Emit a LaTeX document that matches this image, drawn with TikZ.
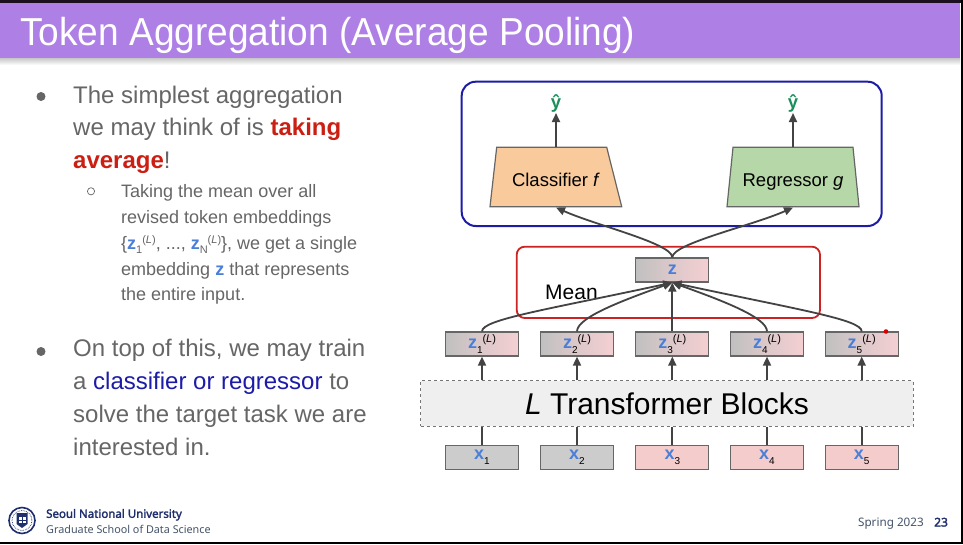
\documentclass[tikz,border=0pt]{standalone}
\usepackage{fontspec}
\setmainfont{Liberation Sans}
\newfontfamily\titlefont[FakeStretch=0.95]{Liberation Sans}
\newfontfamily\footfont{Noto Sans}[BoldFont={Noto Sans}, BoldFeatures={FakeBold=2.2}]
\usetikzlibrary{arrows.meta,shapes.geometric}
\definecolor{bandpurple}{HTML}{AE80E6}
\definecolor{topdark}{HTML}{1A1020}
\definecolor{txtgray}{HTML}{666666}
\definecolor{hired}{HTML}{CC1F14}
\definecolor{hiblue}{HTML}{1C1CA8}
\definecolor{zblue}{HTML}{4A7FD8}
\definecolor{yhat}{HTML}{1A8F5C}
\definecolor{outerblue}{HTML}{1C1CA6}
\definecolor{meanred}{HTML}{CC2222}
\definecolor{clforange}{HTML}{F9CB9C}
\definecolor{reggreen}{HTML}{B6D7A8}
\definecolor{boxgray}{HTML}{666666}
\definecolor{tokgray}{HTML}{C0C0C0}
\definecolor{tokpink}{HTML}{F4CFD2}
\definecolor{xpink}{HTML}{F4CCCC}
\definecolor{xgray}{HTML}{CCCCCC}
\definecolor{arrowgray}{HTML}{434343}
\definecolor{blockfill}{HTML}{EFEFEF}
\definecolor{navy}{HTML}{1F2F6E}
\definecolor{footgray}{HTML}{44546A}
\tikzset{
  tok/.style={draw=boxgray, line width=1.2pt, minimum width=73pt, minimum height=24pt, inner sep=0pt},
  ztok/.style={tok, left color=tokgray, right color=tokpink, middle color=tokgray!45!tokpink},
  xtokgray/.style={tok, fill=xgray},
  xtokpink/.style={tok, fill=xpink},
  conn/.style={draw=arrowgray, line width=1.8pt},
  arr/.style={conn, -{Triangle[length=9pt,width=8pt]}},
  bodytxt/.style={anchor=base west, inner sep=0pt, text=txtgray, font=\fontsize{24}{28}\selectfont},
  subtxt/.style={anchor=base west, inner sep=0pt, text=txtgray, font=\fontsize{18}{22}\selectfont},
  headshape/.style={draw=boxgray, line width=1.2pt},
  headtxt/.style={inner sep=0pt, font=\fontsize{18.5}{20}\selectfont},
}
\newcommand{\ztok}[1]{\textcolor{zblue}{\bfseries\fontsize{18}{18}\selectfont z}\raisebox{-5pt}{\fontsize{10}{10}\selectfont #1}\raisebox{6pt}{\fontsize{11}{11}\selectfont (\textit{L})}}
\newcommand{\xtok}[1]{\textcolor{zblue}{\bfseries\fontsize{18}{18}\selectfont x}\raisebox{-5pt}{\fontsize{10}{10}\selectfont #1}}
\newcommand{\zsub}[1]{\textcolor{zblue}{\bfseries z}\raisebox{-4.5pt}{\fontsize{11}{11}\selectfont #1}\raisebox{6pt}{\fontsize{11}{11}\selectfont (\textit{L})}}
\begin{document}
\begin{tikzpicture}[x=1pt,y=-1pt]
\useasboundingbox (0,0) rectangle (963,544);
\fill[white] (0,0) rectangle (963,544);
% header band
\shade[top color=black!22, bottom color=white] (0,58) rectangle (960,65);
\fill[bandpurple] (0,3) rectangle (960,58);
\fill[topdark] (0,0) rectangle (963,3);
\fill[black] (960.5,0) rectangle (963,544);
\fill[black] (0,541.5) rectangle (963,544);
\node[anchor=base west, inner sep=0pt, text=white, font=\titlefont\fontsize{39}{39}\selectfont] (title) at (20,45) {Token Aggregation (Average Pooling)};

% left column text
\fill[txtgray] (41,96.5) circle (4.5);
\node[bodytxt] (b1a) at (73,103.3) {The simplest aggregation};
\node[bodytxt] (b1b) at (73,135.8) {we may think of is \textcolor{hired}{\bfseries taking}};
\node[bodytxt] (b1c) at (73,168.4) {\textcolor{hired}{\bfseries average}!};
\draw[txtgray, line width=0.7pt] (91,191.3) circle (3.6);
\node[subtxt] (s1) at (121,197.3) {Taking the mean over all};
\node[subtxt] (s2) at (121,223.2) {revised token embeddings};
\node[subtxt] (s3) at (121,249.1) {\{\zsub{1}, ..., \zsub{N}\}, we get a single};
\node[subtxt] (s4) at (121,275) {embedding \textcolor{zblue}{\bfseries z} that represents};
\node[subtxt] (s5) at (121,300.9) {the entire input.};
\fill[txtgray] (41,351.5) circle (4.5);
\node[bodytxt] (b2a) at (73,356.7) {On top of this, we may train};
\node[bodytxt] (b2b) at (73,389.8) {a \textcolor{hiblue}{classifier or regressor} to};
\node[bodytxt] (b2c) at (73,422.8) {solve the target task we are};
\node[bodytxt] (b2d) at (73,455.9) {interested in.};

% footer
\node[circle, draw=navy, line width=1.6pt, minimum size=26pt, inner sep=0pt] (logo) at (22,520.5) {};
\draw[navy, line width=0.7pt, densely dotted] (logo.center) circle (10);
\fill[navy] (16.5,513) -- (27.5,513) -- (27.5,524) -- (22,528) -- (16.5,524) -- cycle;
\fill[white] (18.5,517) rectangle (25.5,522.5);
\draw[navy, line width=0.6pt] (22,517) -- (22,522.5) (18.5,519.8) -- (25.5,519.8);
\node[anchor=base west, inner sep=0pt, text=navy, font=\footfont\bfseries\fontsize{11.5}{12}\selectfont] (snu) at (46,517.8) {Seoul National University};
\node[anchor=base west, inner sep=0pt, text=footgray, font=\footfont\fontsize{10.8}{12}\selectfont] (gsds) at (46,533) {Graduate School of Data Science};
\node[anchor=base east, inner sep=0pt, text=footgray, font=\footfont\fontsize{11.7}{12}\selectfont] (spring) at (924,526.5) {Spring 2023};
\node[anchor=base west, inner sep=0pt, text=navy, font=\footfont\bfseries\fontsize{12}{12}\selectfont] (page) at (934,526.5) {23};

% diagram: outer boxes
\draw[outerblue, line width=2pt, rounded corners=14pt] (461.7,81.7) rectangle (881.7,226);
\draw[meanred, line width=1.8pt, rounded corners=8pt] (516.7,246.7) rectangle (820,318);
\node[anchor=base west, inner sep=0pt, font=\fontsize{21}{21}\selectfont] (mean) at (545,299.5) {Mean};

% heads
\draw[headshape, fill=clforange] (496.7,147.3) -- (606.7,147.3) -- (621.7,206.7) -- (490,206.7) -- cycle;
\draw[headshape, fill=reggreen] (733,147.3) -- (853,147.3) -- (859,206.7) -- (727,206.7) -- cycle;
\coordinate (clftop) at (556,147.3);
\coordinate (clfbot) at (556,207.5);
\coordinate (regtop) at (793,147.3);
\coordinate (regbot) at (793,207.5);
\node[headtxt, anchor=base] (clf) at (556,186.5) {Classifier \textit{f}};
\node[headtxt, anchor=base] (reg) at (793,186.5) {Regressor \textit{g}};
\node[inner sep=0pt, text=yhat, font=\bfseries\fontsize{18.5}{18}\selectfont] (y1) at (556,104) {ŷ};
\node[inner sep=0pt, text=yhat, font=\bfseries\fontsize{18.5}{18}\selectfont] (y2) at (793,104) {ŷ};
\draw[arr] (clftop) -- (y1.south);
\draw[arr] (regtop) -- (y2.south);

% pooled token
\node[ztok] (zc) at (672.3,270) {\textcolor{zblue}{\bfseries\fontsize{18}{18}\selectfont z}};

% token rows
\node[ztok] (z1) at (482,344) {\ztok{1}};
\node[ztok] (z2) at (577,344) {\ztok{2}};
\node[ztok] (z3) at (672.3,344) {\ztok{3}};
\node[ztok] (z4) at (767,344) {\ztok{4}};
\node[ztok] (z5) at (861.7,344) {\ztok{5}};
\fill[red!85!black] (886,331.5) circle (2.3);

\node[draw=boxgray!90, dashed, line width=0.9pt, fill=blockfill, minimum width=492.6pt, minimum height=45.3pt, inner sep=0pt, font=\fontsize{30}{30}\selectfont] (tb) at (667,403.4) {\textit{L} Transformer Blocks};

\node[xtokgray] (x1) at (482,457.2) {\xtok{1}};
\node[xtokgray] (x2) at (577,457.2) {\xtok{2}};
\node[xtokpink] (x3) at (672.3,457.2) {\xtok{3}};
\node[xtokpink] (x4) at (767,457.2) {\xtok{4}};
\node[xtokpink] (x5) at (861.7,457.2) {\xtok{5}};

% connectors x -> blocks -> z
\foreach \i in {1,...,5} {
  \draw[conn] (x\i.north) -- (tb.south -| x\i.north);
  \draw[arr] (tb.north -| z\i.south) -- (z\i.south);
}

% mean pooling
\draw[arr] (z1.north) .. controls +(0,-12) and +(-125,27) .. (zc.south);
\draw[arr] (z2.north) .. controls +(0,-14) and +(-50,18) .. (zc.south);
\draw[arr] (z3.north) -- (zc.south);
\draw[arr] (z4.north) .. controls +(0,-14) and +(50,18) .. (zc.south);
\draw[arr] (z5.north) .. controls +(0,-12) and +(125,27) .. (zc.south);

% to heads
\draw[arr] (zc.north) .. controls +(0,-14) and +(40,18) .. (clfbot);
\draw[arr] (zc.north) .. controls +(0,-14) and +(-40,18) .. (regbot);
\end{tikzpicture}
\end{document}
